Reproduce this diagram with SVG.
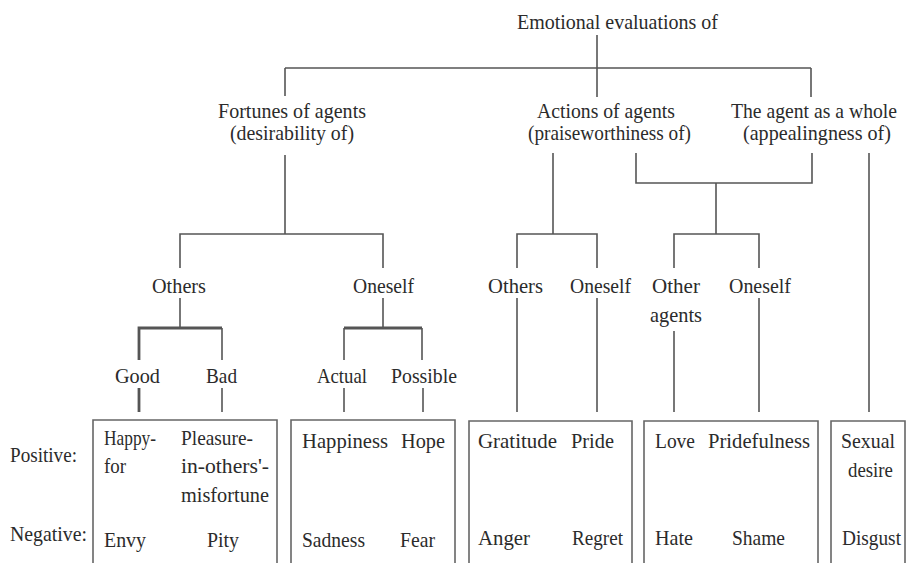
<svg xmlns="http://www.w3.org/2000/svg" width="907" height="563" viewBox="0 0 907 563">
<style>
text{font-family:"Liberation Serif","Times New Roman",serif;font-size:21px;fill:#2b2b2b}
.c line,.c path{stroke:#555;stroke-width:1.6;fill:none}
.c .thick{stroke-width:2.8}
.box{stroke:#666;stroke-width:1.6;fill:none}
</style>
<rect width="907" height="563" fill="#fff"/>
<g class="c" id="connectors">
<line x1="597" y1="35" x2="597" y2="68"/>
<line x1="285" y1="68" x2="811" y2="68"/>
<line x1="285" y1="68" x2="285" y2="96"/>
<line x1="597" y1="68" x2="597" y2="97"/>
<line x1="811" y1="68" x2="811" y2="97"/>
<line x1="285" y1="155" x2="285" y2="234"/>
<path d="M180,268 V234 H383 V268"/>
<line x1="180" y1="298" x2="180" y2="328"/>
<path class="thick" d="M139,360 V328 H222"/>
<line x1="222" y1="328" x2="222" y2="360"/>
<line x1="383" y1="298" x2="383" y2="328"/>
<path class="thick" d="M344,328 H422"/>
<line x1="344" y1="328" x2="344" y2="360"/>
<line x1="422" y1="328" x2="422" y2="360"/>
<line class="thick" x1="139" y1="388" x2="139" y2="412"/>
<line x1="222" y1="388" x2="222" y2="412"/>
<line x1="344" y1="388" x2="344" y2="412"/>
<line x1="423" y1="388" x2="423" y2="412"/>
<line x1="553" y1="153" x2="553" y2="234"/>
<path d="M517,268 V234 H597 V268"/>
<path d="M636,153 V183 H812 V153"/>
<line x1="716" y1="183" x2="716" y2="234"/>
<path d="M674,268 V234 H759 V268"/>
<line x1="869" y1="153" x2="869" y2="412"/>
<line x1="517" y1="298" x2="517" y2="412"/>
<line x1="597" y1="298" x2="597" y2="412"/>
<line x1="674" y1="331" x2="674" y2="412"/>
<line x1="759" y1="298" x2="759" y2="412"/>
</g>
<g id="root"><text x="517" y="29" textLength="201" lengthAdjust="spacingAndGlyphs">Emotional evaluations of</text></g>
<g id="fortunes"><text x="218" y="118" textLength="148" lengthAdjust="spacingAndGlyphs">Fortunes of agents</text><text x="230" y="140" textLength="124" lengthAdjust="spacingAndGlyphs">(desirability of)</text></g>
<g id="actions"><text x="537" y="118" textLength="138" lengthAdjust="spacingAndGlyphs">Actions of agents</text><text x="528" y="140" textLength="163" lengthAdjust="spacingAndGlyphs">(praiseworthiness of)</text></g>
<g id="whole"><text x="731" y="118" textLength="166" lengthAdjust="spacingAndGlyphs">The agent as a whole</text><text x="743" y="140" textLength="148" lengthAdjust="spacingAndGlyphs">(appealingness of)</text></g>
<g id="f-others"><text x="152" y="293" textLength="54" lengthAdjust="spacingAndGlyphs">Others</text></g>
<g id="f-oneself"><text x="353" y="293" textLength="61" lengthAdjust="spacingAndGlyphs">Oneself</text></g>
<g id="good"><text x="115" y="383" textLength="45" lengthAdjust="spacingAndGlyphs">Good</text></g>
<g id="bad"><text x="206" y="383" textLength="31" lengthAdjust="spacingAndGlyphs">Bad</text></g>
<g id="actual"><text x="317" y="383" textLength="50" lengthAdjust="spacingAndGlyphs">Actual</text></g>
<g id="possible"><text x="391" y="383" textLength="66" lengthAdjust="spacingAndGlyphs">Possible</text></g>
<g id="a-others"><text x="488" y="293" textLength="55" lengthAdjust="spacingAndGlyphs">Others</text></g>
<g id="a-oneself"><text x="570" y="293" textLength="61" lengthAdjust="spacingAndGlyphs">Oneself</text></g>
<g id="w-other"><text x="652" y="293" textLength="48" lengthAdjust="spacingAndGlyphs">Other</text><text x="650" y="322" textLength="52" lengthAdjust="spacingAndGlyphs">agents</text></g>
<g id="w-oneself"><text x="729" y="293" textLength="62" lengthAdjust="spacingAndGlyphs">Oneself</text></g>
<g id="labels"><text x="10" y="462" textLength="67" lengthAdjust="spacingAndGlyphs">Positive:</text><text x="10" y="541" textLength="77" lengthAdjust="spacingAndGlyphs">Negative:</text></g>
<g id="box1"><path class="box" d="M93,570 V420 H277 V570"/>
<text x="104" y="445" textLength="52" lengthAdjust="spacingAndGlyphs">Happy-</text><text x="104" y="473" textLength="22" lengthAdjust="spacingAndGlyphs">for</text>
<text x="181" y="445" textLength="72" lengthAdjust="spacingAndGlyphs">Pleasure-</text><text x="181" y="473" textLength="88" lengthAdjust="spacingAndGlyphs">in-others'-</text><text x="181" y="502" textLength="88" lengthAdjust="spacingAndGlyphs">misfortune</text>
<text x="104" y="547" textLength="42" lengthAdjust="spacingAndGlyphs">Envy</text><text x="207" y="547" textLength="32" lengthAdjust="spacingAndGlyphs">Pity</text></g>
<g id="box2"><path class="box" d="M291,570 V420 H455 V570"/>
<text x="302" y="448" textLength="86" lengthAdjust="spacingAndGlyphs">Happiness</text><text x="401" y="448" textLength="44" lengthAdjust="spacingAndGlyphs">Hope</text>
<text x="302" y="547" textLength="63" lengthAdjust="spacingAndGlyphs">Sadness</text><text x="400" y="547" textLength="35" lengthAdjust="spacingAndGlyphs">Fear</text></g>
<g id="box3"><path class="box" d="M469,570 V421 H632 V570"/>
<text x="478" y="448" textLength="79" lengthAdjust="spacingAndGlyphs">Gratitude</text><text x="571" y="448" textLength="43" lengthAdjust="spacingAndGlyphs">Pride</text>
<text x="478" y="545" textLength="52" lengthAdjust="spacingAndGlyphs">Anger</text><text x="572" y="545" textLength="51" lengthAdjust="spacingAndGlyphs">Regret</text></g>
<g id="box4"><path class="box" d="M644,570 V421 H818 V570"/>
<text x="655" y="448" textLength="40" lengthAdjust="spacingAndGlyphs">Love</text><text x="708" y="448" textLength="102" lengthAdjust="spacingAndGlyphs">Pridefulness</text>
<text x="655" y="545" textLength="38" lengthAdjust="spacingAndGlyphs">Hate</text><text x="732" y="545" textLength="53" lengthAdjust="spacingAndGlyphs">Shame</text></g>
<g id="box5"><path class="box" d="M831,570 V421 H905 V570"/>
<text x="841" y="448" textLength="54" lengthAdjust="spacingAndGlyphs">Sexual</text><text x="848" y="477" textLength="45" lengthAdjust="spacingAndGlyphs">desire</text>
<text x="842" y="545" textLength="59" lengthAdjust="spacingAndGlyphs">Disgust</text></g>
</svg>
